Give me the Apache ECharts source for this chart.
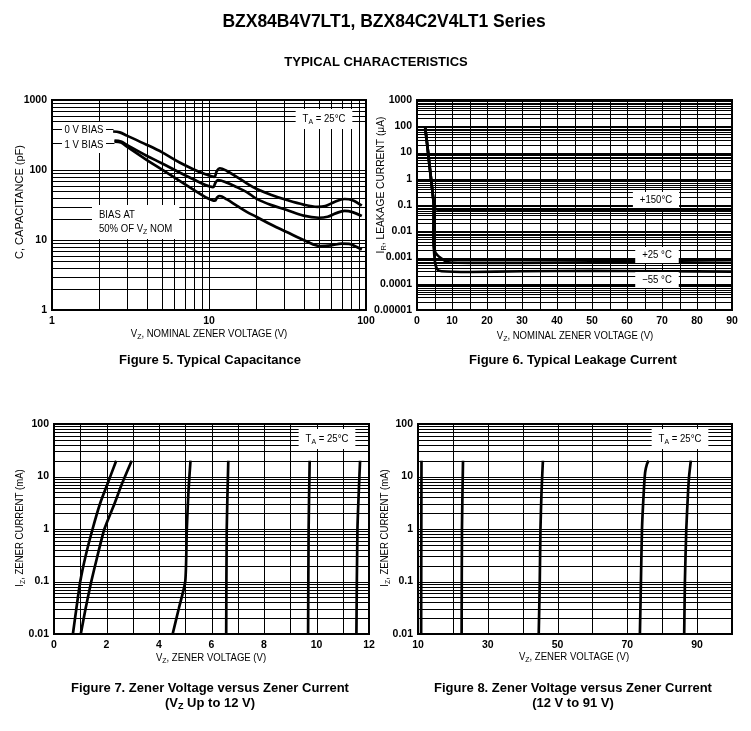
<!DOCTYPE html>
<html>
<head>
<meta charset="utf-8">
<script src="https://cdn.jsdelivr.net/npm/echarts@6/dist/echarts.min.js"></script>
<style>
html,body{margin:0;padding:0;background:#fff;}
#chart{width:751px;height:731px;}
</style>
</head>
<body>
<div id="chart"></div>
<script>
// ---------- Figure 5: capacitance (log-log) ----------
const F5_X_LABELS = {0:'1',1:'10',2:'100'};
const F5_Y_LABELS = {0:'1',1:'10',2:'100',3:'1000'};
const F5_C0V = [[2.45,355],[2.7,345],[3,310],[4,230],[5,180],[6.5,128],[8,102],[9.5,87],[10.8,80],[11.2,96],[11.7,106],[13,97],[15,80],[17.5,64],[20,54],[25,44],[31,37.5],[40,32],[49,29.8],[55,30.5],[63,35],[73,38.5],[82,37],[94,31]];
const F5_C1V = [[2.5,262],[2.75,255],[3,228],[4,160],[5,125],[6.5,92],[8,73],[9.5,61],[10.6,57],[11.0,66],[11.4,72],[13,66],[15,57],[17.5,48],[20,39],[25,31.5],[31,27],[40,22.3],[50,20.8],[57,21.5],[64,24],[73,26],[82,25],[94,22]];
const F5_CHALF = [[2.5,255],[2.75,248],[3,215],[4,140],[5,102],[6.5,70],[8,52],[9.5,41],[10.9,36.5],[11.3,41],[11.7,42.5],[13,38],[15,31],[17.5,25],[20,21.5],[25,16.5],[31,13.1],[42,9.5],[51,8.2],[60,8.4],[70,8.9],[78,8.8],[86,8.1],[94,7.3]];
// leader lines from the axis to the curve starts (label rows), in data units
const F5_LEADERS = [[1,390,2.45,390],[1,240,2.5,240]];
// the 100..1000 decade only shows its upper minor lines
const F5_TOP_DECADE = [100,500,600,700,800,900,1000];

// ---------- Figure 6: leakage current ----------
const F6_X_LABELS = ['0','10','20','30','40','50','60','70','80','90'];
const F6_Y_LABELS = {'-5':'0.00001','-4':'0.0001','-3':'0.001','-2':'0.01','-1':'0.1','0':'1','1':'10','2':'100','3':'1000'};
const F6_IR150 = [[2.3,100],[3,16],[3.5,4],[4,1],[4.5,0.26],[4.85,0.1],[5.2,0.075],[6,0.066],[10,0.064],[20,0.063],[40,0.063],[60,0.066],[75,0.065],[90,0.064]];
const F6_IR25 = [[2.3,100],[3,16],[3.5,4],[4,1],[4.5,0.26],[4.8,0.1],[4.7,0.01],[4.75,0.003],[5.3,0.0015],[7,0.0009],[9,0.00066],[20,0.00062],[40,0.00064],[60,0.00066],[75,0.00065],[90,0.00063]];
const F6_IRM55 = [[2.3,100],[3,16],[3.5,4],[4,1],[4.5,0.26],[4.8,0.1],[4.7,0.01],[4.85,0.002],[5.2,0.0006],[5.8,0.00035],[7,0.0003],[15,0.00028],[30,0.0003],[50,0.00031],[70,0.0003],[90,0.00029]];

// ---------- Figure 7: zener current, VZ up to 12 V ----------
const F7_Y_LABELS = {'-2':'0.01','-1':'0.1','0':'1','1':'10','2':'100'};
const F7_CURVES = [
  [[0.72,0.01],[0.85,0.03],[1.0,0.1],[1.2,0.3],[1.47,1],[1.75,3],[2.05,7.5],[2.37,20]],
  [[1.02,0.01],[1.2,0.03],[1.42,0.1],[1.65,0.3],[1.92,1],[2.3,3],[2.6,7.5],[2.96,20]],
  [[4.52,0.01],[4.75,0.03],[5.0,0.1],[5.06,1],[5.12,5],[5.2,20]],
  [[6.56,0.01],[6.58,1],[6.64,20]],
  [[9.68,0.01],[9.7,1],[9.74,20]],
  [[11.52,0.01],[11.56,1],[11.66,20]]
];

// ---------- Figure 8: zener current, 12 V to 91 V ----------
const F8_X_LABELS = {10:'10',30:'30',50:'50',70:'70',90:'90'};
const F8_CURVES = [
  [[10.9,0.01],[10.95,1],[11,20]],
  [[22.5,0.01],[22.6,1],[22.9,20]],
  [[44.6,0.01],[44.9,0.1],[45.1,1],[45.4,5],[45.8,20]],
  [[73.6,0.01],[73.9,0.1],[74.2,1],[74.7,5],[75.1,12],[75.6,17],[76.1,20]],
  [[86.3,0.01],[86.5,0.1],[86.9,1],[87.4,5],[87.7,10],[88.2,20]]
];

const SANS = "'Liberation Sans',Arial,Helvetica,sans-serif";
const CONDENSE = 0.87;

function logGrid(e0, e1) {
  const out = [];
  for (let e = e0; e < e1; e++) {
    for (let m = 1; m <= 9; m++) out.push(m * Math.pow(10, e));
  }
  out.push(Math.pow(10, e1));
  return out;
}
function linGrid(a, b, step) {
  const out = [];
  for (let v = a; v <= b + 1e-9; v += step) out.push(v);
  return out;
}

const grids = [
  {left:52, top:100, width:314, height:210},
  {left:417, top:100, width:315, height:210},
  {left:54, top:424, width:315, height:210},
  {left:418, top:424, width:314, height:210}
].map(g => Object.assign({show:true, borderColor:'#000', borderWidth:2, backgroundColor:'#fff', outerBoundsMode:'none', containLabel:false}, g));

const tickLabel = {color:'#000', fontFamily:SANS, fontWeight:'bold', fontSize:10.5};
function axisBase(extra) {
  return Object.assign({
    axisLine:{show:true, lineStyle:{color:'#000', width:2}},
    axisTick:{show:false},
    splitLine:{show:false},
    minorSplitLine:{show:false}
  }, extra);
}
const lg = v => Math.round(Math.log10(v));

const AX = [
  {x:{type:'log', min:1, max:100}, y:{type:'log', min:1, max:1000},
   xf:v=>F5_X_LABELS[lg(v)]||'', yf:v=>F5_Y_LABELS[lg(v)]||''},
  {x:{type:'value', min:0, max:90, interval:10}, y:{type:'log', min:0.00001, max:1000},
   xf:v=>F6_X_LABELS[Math.round(v/10)], yf:v=>F6_Y_LABELS[lg(v)]||''},
  {x:{type:'value', min:0, max:12, interval:2}, y:{type:'log', min:0.01, max:100},
   xf:v=>String(v), yf:v=>F7_Y_LABELS[lg(v)]||''},
  {x:{type:'value', min:10, max:100, interval:10}, y:{type:'log', min:0.01, max:100},
   xf:v=>F8_X_LABELS[Math.round(v)]||'', yf:v=>F7_Y_LABELS[lg(v)]||''}
];
const xAxes = AX.map((a,i)=>axisBase(Object.assign({gridIndex:i, logBase:10,
  axisLabel:Object.assign({margin:6, formatter:a.xf}, tickLabel)}, a.x)));
const yAxes = AX.map((a,i)=>axisBase(Object.assign({gridIndex:i, logBase:10,
  axisLabel:Object.assign({margin:5, formatter:a.yf}, tickLabel)}, a.y)));

const gridLines = [
  {xs: logGrid(0,2), ys: logGrid(0,2).concat(F5_TOP_DECADE), extra: F5_LEADERS},
  {xs: linGrid(0,90,5), ys: logGrid(-5,3)},
  {xs: linGrid(0,12,1), ys: logGrid(-2,2)},
  {xs: linGrid(10,100,10), ys: logGrid(-2,2)}
];

const series = [];
gridLines.forEach((gl, i) => {
  const xa = AX[i].x, ya = AX[i].y;
  const segs = gl.xs.map(v=>[v, ya.min, v, ya.max])
    .concat(gl.ys.map(v=>[xa.min, v, xa.max, v]))
    .concat(gl.extra || []);
  series.push({
    type:'custom', xAxisIndex:i, yAxisIndex:i, silent:true, z:1, animation:false,
    encode:{x:[0,2], y:[1,3]},
    data:segs,
    renderItem:function(params, api){
      const p1 = api.coord([api.value(0), api.value(1)]);
      const p2 = api.coord([api.value(2), api.value(3)]);
      const sx = v => Math.round(v) + 0.5;
      return {type:'line', shape:{x1:sx(p1[0]), y1:sx(p1[1]), x2:sx(p2[0]), y2:sx(p2[1])},
        style:{stroke:'#000', lineWidth:1}};
    }
  });
});
function curve(i, data, smooth) {
  series.push({type:'line', xAxisIndex:i, yAxisIndex:i, data:data, showSymbol:false, smooth:smooth||false,
    silent:true, z:5, lineStyle:{color:'#000', width:2.7}, animation:false});
}
curve(0, F5_C0V, 0.35); curve(0, F5_C1V, 0.35); curve(0, F5_CHALF, 0.35);
curve(1, F6_IR150, 0.2); curve(1, F6_IR25, 0.2); curve(1, F6_IRM55, 0.2);
F7_CURVES.forEach(c => curve(2, c, 0.2));
F8_CURVES.forEach(c => curve(3, c, 0.2));

// ---------- text ----------
function rich(size, weight) {
  return {
    n:{fontSize:size, fontWeight:weight, fontFamily:SANS, fill:'#000', lineHeight:size+3},
    s:{fontSize:Math.round(size*0.72), fontWeight:weight, fontFamily:SANS, fill:'#000', lineHeight:size+3, padding:[Math.round(size*0.45),0,0,0], verticalAlign:'bottom'}
  };
}
function txt(x, y, text, size, weight, opts) {
  opts = opts || {};
  const el = {type:'text', x:x, y:y, z:100, rotation:opts.rot||0, scaleX:opts.sx||1,
    style:{text:text, rich:rich(size, weight), fill:'#000', fontSize:size, fontWeight:weight, fontFamily:SANS,
      align:opts.align||'center', verticalAlign:'middle'}};
  if (opts.bg) {
    el.style.backgroundColor = '#fff';
    el.style.padding = opts.pad || [2,4,2,4];
  }
  return el;
}
const C = CONDENSE;
const graphics = [
  txt(384, 22, '{n|BZX84B4V7LT1, BZX84C2V4LT1 Series}', 17.5, 'bold'),
  txt(376, 62, '{n|TYPICAL CHARACTERISTICS}', 13, 'bold'),
  // axis names
  txt(209, 334, '{n|V}{s|Z}{n|, NOMINAL ZENER VOLTAGE (V)}', 11, 'normal', {sx:C}),
  txt(20, 202, '{n|C, CAPACITANCE (pF)}', 11, 'normal', {rot:Math.PI/2, sx:1}),
  txt(575, 336, '{n|V}{s|Z}{n|, NOMINAL ZENER VOLTAGE (V)}', 11, 'normal', {sx:C}),
  txt(381, 185, '{n|I}{s|R}{n|, LEAKAGE CURRENT (μA)}', 11, 'normal', {rot:Math.PI/2, sx:0.93}),
  txt(211, 658, '{n|V}{s|Z}{n|, ZENER VOLTAGE (V)}', 11, 'normal', {sx:C}),
  txt(20, 528, '{n|I}{s|Z}{n|, ZENER CURRENT (mA)}', 11, 'normal', {rot:Math.PI/2, sx:C}),
  txt(574, 657, '{n|V}{s|Z}{n|, ZENER VOLTAGE (V)}', 11, 'normal', {sx:C}),
  txt(385, 528, '{n|I}{s|Z}{n|, ZENER CURRENT (mA)}', 11, 'normal', {rot:Math.PI/2, sx:C}),
  // captions
  txt(210, 360, '{n|Figure 5. Typical Capacitance}', 13, 'bold'),
  txt(573, 360, '{n|Figure 6. Typical Leakage Current}', 13, 'bold'),
  txt(210, 688, '{n|Figure 7. Zener Voltage versus Zener Current}', 13, 'bold'),
  txt(210, 703, '{n|(V}{s|Z}{n| Up to 12 V)}', 13, 'bold'),
  txt(573, 688, '{n|Figure 8. Zener Voltage versus Zener Current}', 13, 'bold'),
  txt(573, 703, '{n|(12 V to 91 V)}', 13, 'bold'),
  // annotations
  txt(324, 119, '{n|T}{s|A}{n| = 25°C}', 11, 'normal', {bg:true, pad:[3,8,3,8], sx:C}),
  txt(84, 130, '{n|0 V BIAS}', 11, 'normal', {bg:true, pad:[1,3,1,3], sx:C}),
  txt(84, 145, '{n|1 V BIAS}', 11, 'normal', {bg:true, pad:[1,3,1,3], sx:C}),
  txt(92, 222, '{n|BIAS AT}\n{n|50% OF V}{s|Z}{n| NOM}', 11, 'normal', {bg:true, align:'left', pad:[3,8,3,8], sx:C}),
  txt(656, 200, '{n|+150°C}', 11, 'normal', {bg:true, pad:[1,8,1,8], sx:C}),
  txt(657, 255, '{n|+25 °C}', 11, 'normal', {bg:true, pad:[1,8,1,8], sx:C}),
  txt(657, 280, '{n|−55 °C}', 11, 'normal', {bg:true, pad:[1,8,1,8], sx:C}),
  txt(327, 439, '{n|T}{s|A}{n| = 25°C}', 11, 'normal', {bg:true, pad:[3,8,3,8], sx:C}),
  txt(680, 439, '{n|T}{s|A}{n| = 25°C}', 11, 'normal', {bg:true, pad:[3,8,3,8], sx:C})
];

const chart = echarts.init(document.getElementById('chart'), null, {renderer:'canvas'});
chart.setOption({
  animation:false,
  backgroundColor:'#fff',
  grid:grids,
  xAxis:xAxes,
  yAxis:yAxes,
  series:series,
  graphic:graphics
});
</script>
</body>
</html>
